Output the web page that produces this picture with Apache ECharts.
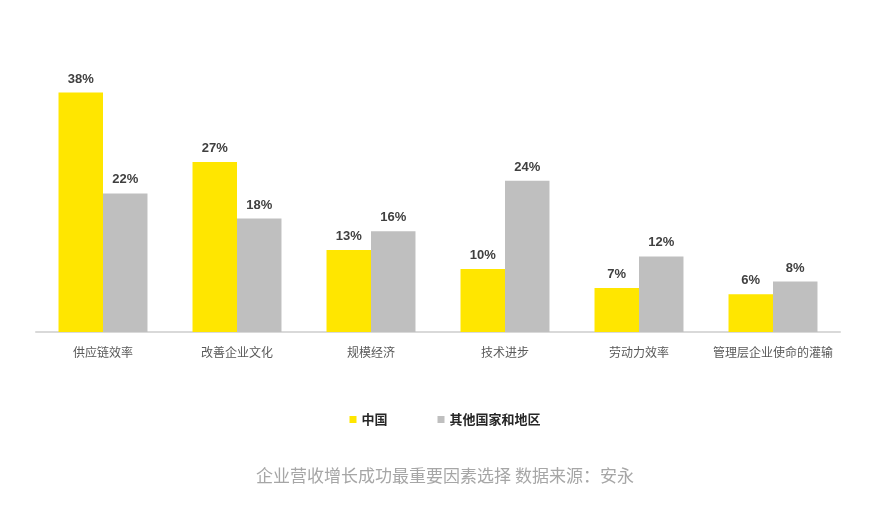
<!DOCTYPE html>
<html>
<head>
<meta charset="utf-8">
<script src="https://cdn.jsdelivr.net/npm/echarts@6/dist/echarts.min.js"></script>
<style>
  html, body { margin: 0; padding: 0; background: #fff; }
  #main { width: 890px; height: 513px; }
</style>
</head>
<body>
<div id="main"></div>
<script>
// 数据
var categories = ['供应链效率', '改善企业文化', '规模经济', '技术进步', '劳动力效率', '管理层企业使命的灌输'];
var chinaValues = [38, 27, 13, 10, 7, 6];
var otherValues = [22, 18, 16, 24, 12, 8];
var seriesNames = ['中国', '其他国家和地区'];

var labelStyle = {
  show: true,
  position: 'top',
  distance: 7,
  formatter: '{c}%',
  fontFamily: 'Arial, "Liberation Sans", sans-serif',
  fontWeight: 'bold',
  fontSize: 13,
  color: '#404040'
};

var myChart = echarts.init(document.getElementById('main'));
myChart.setOption({
  animation: false,
  backgroundColor: '#fff',
  title: {
    text: '企业营收增长成功最重要因素选择 数据来源：安永',
    left: 'center',
    top: 462,
    textStyle: {
      fontFamily: '"Noto Sans CJK SC", sans-serif',
      fontWeight: 'normal',
      fontSize: 17,
      color: '#a6a6a6'
    }
  },
  legend: {
    data: seriesNames,
    left: 'center',
    top: 408,
    icon: 'rect',
    itemWidth: 7,
    itemHeight: 7,
    itemGap: 50,
    textStyle: {
      fontFamily: '"Noto Sans CJK SC", sans-serif',
      fontWeight: 'bold',
      fontSize: 13,
      color: '#262626'
    }
  },
  grid: {
    left: 36,
    right: 50,
    top: 80,
    bottom: 181,
    containLabel: false
  },
  xAxis: {
    type: 'category',
    data: categories,
    axisLine: { lineStyle: { color: '#d9d9d9', width: 2 } },
    axisTick: { show: false },
    axisLabel: {
      margin: 14,
      fontFamily: '"Noto Sans CJK SC", sans-serif',
      fontSize: 12,
      color: '#595959',
      interval: 0
    }
  },
  yAxis: {
    type: 'value',
    min: 0,
    max: 40,
    show: false
  },
  series: [
    {
      name: seriesNames[0],
      type: 'bar',
      data: chinaValues,
      barGap: 0,
      barCategoryGap: '33.6%',
      itemStyle: { color: '#ffe600' },
      label: labelStyle
    },
    {
      name: seriesNames[1],
      type: 'bar',
      data: otherValues,
      itemStyle: { color: '#bfbfbf' },
      label: labelStyle
    }
  ]
});
</script>
</body>
</html>
